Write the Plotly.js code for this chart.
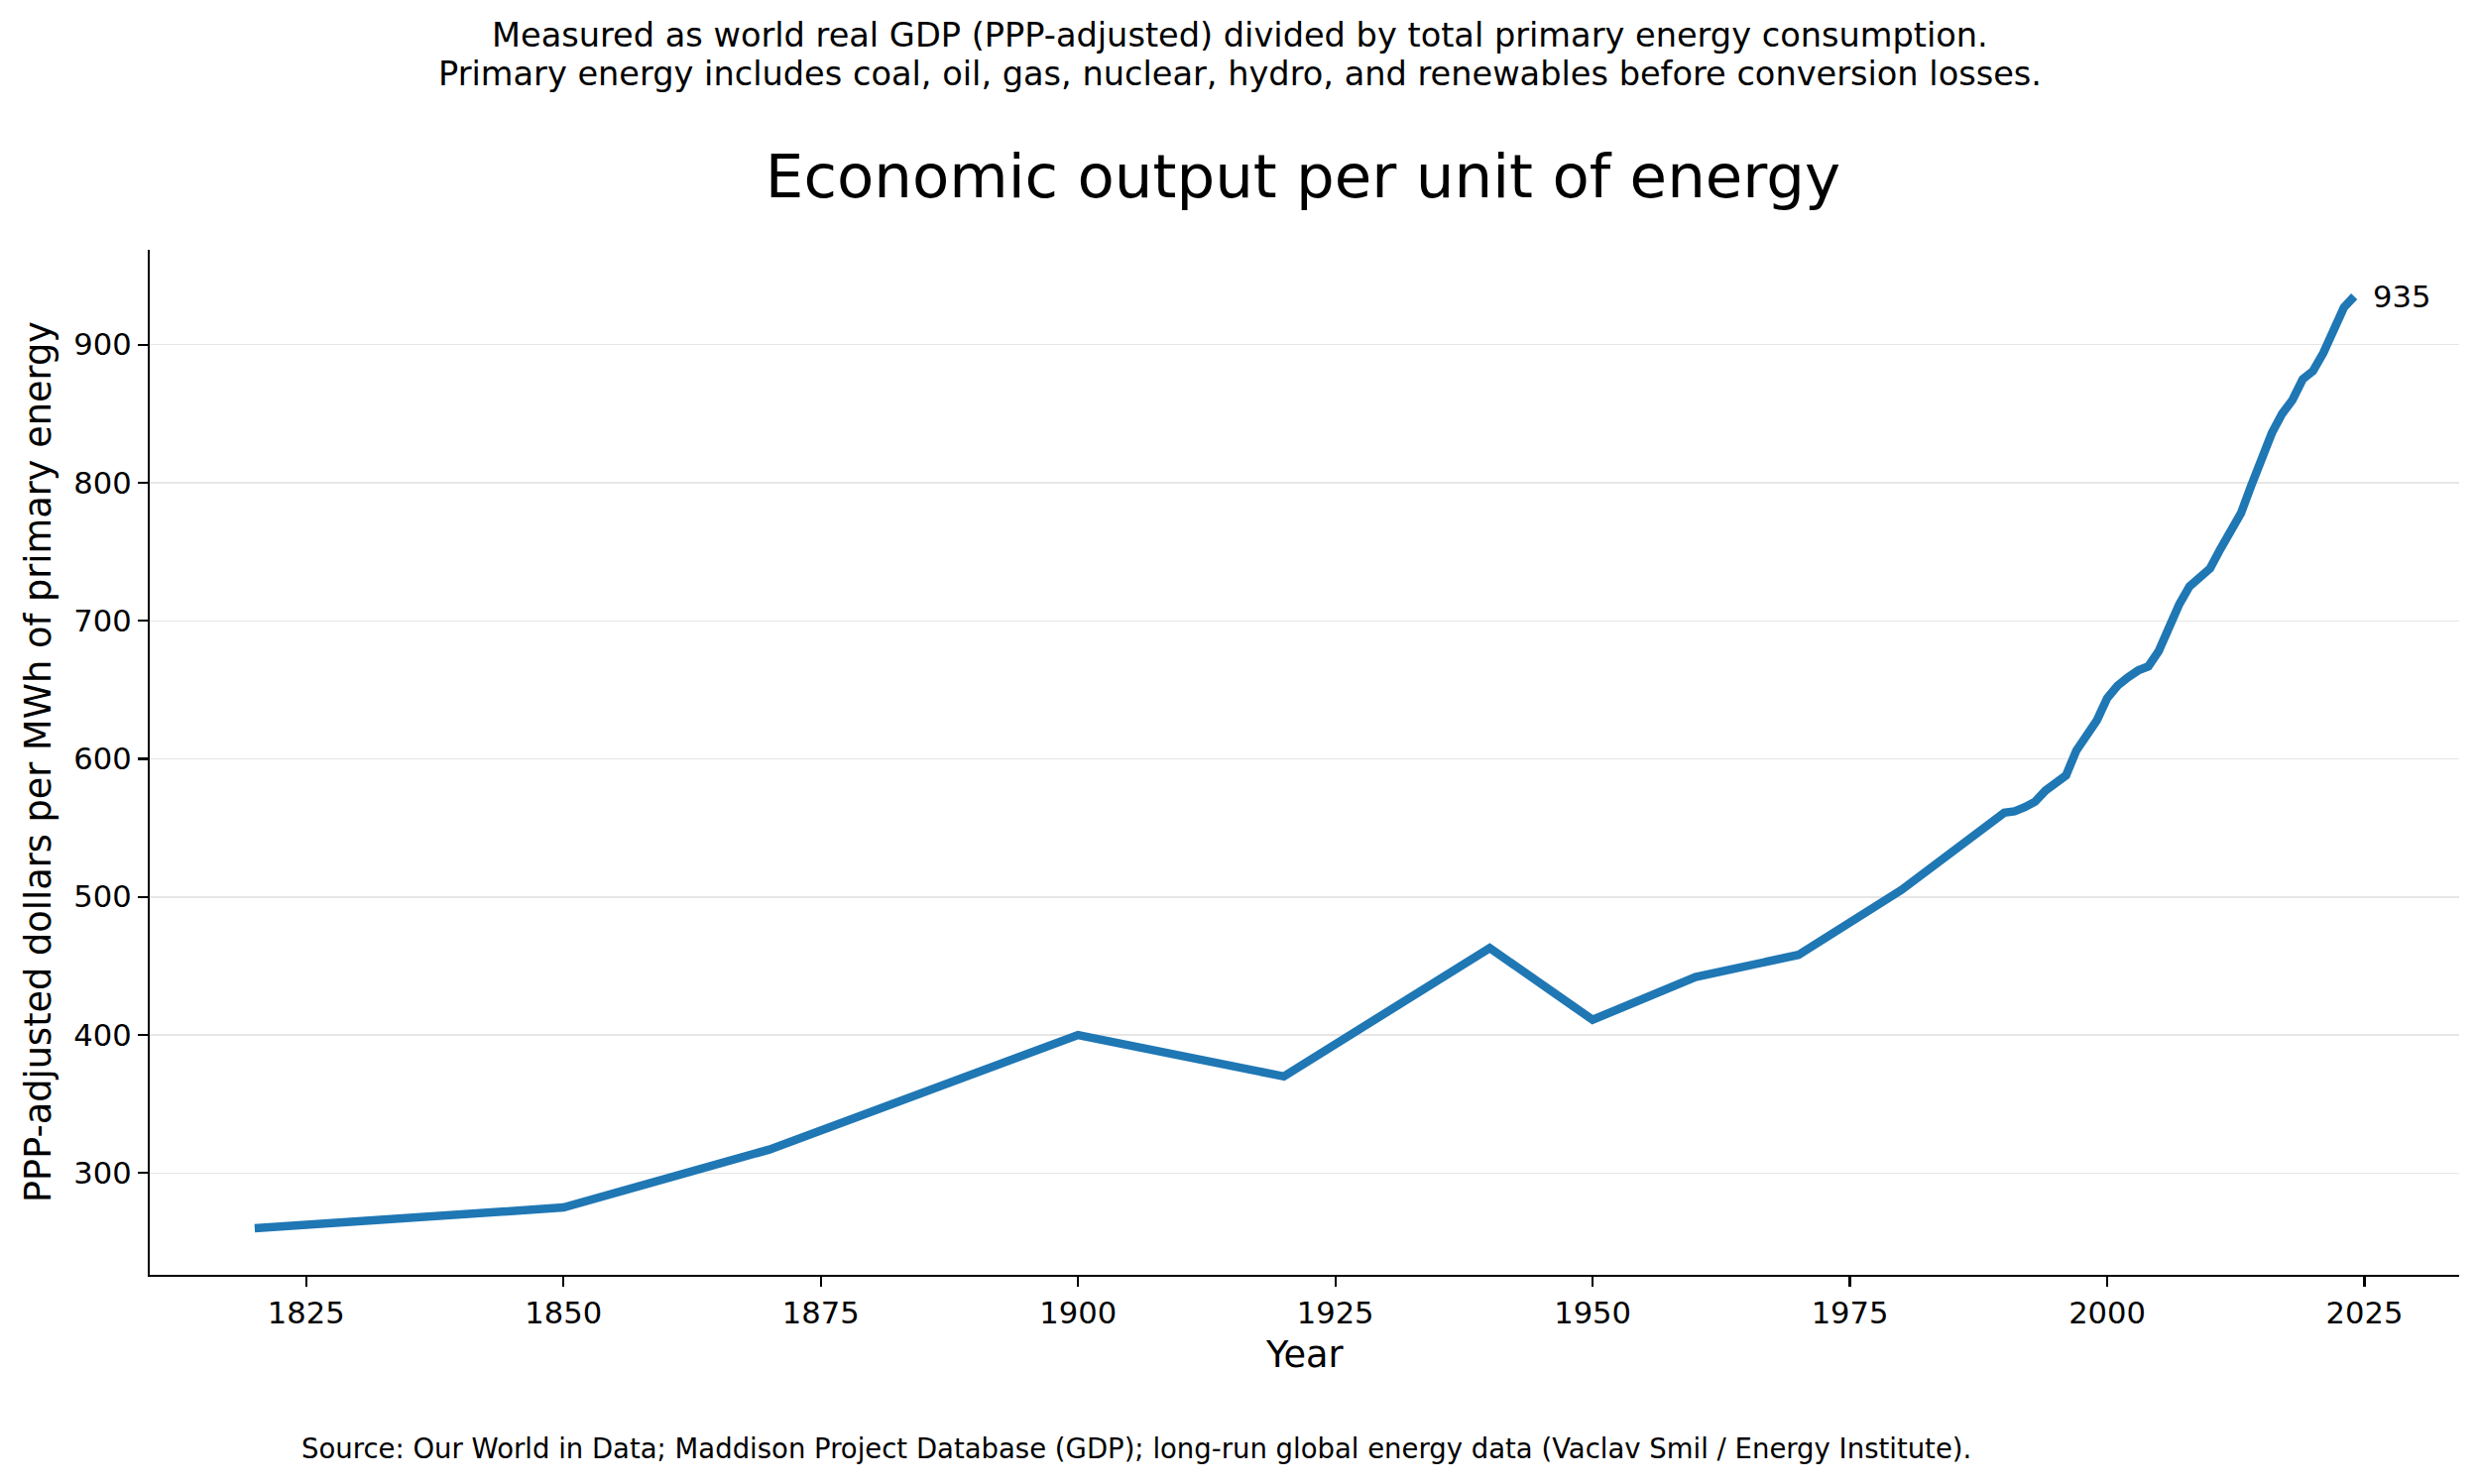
<!DOCTYPE html>
<html>
<head>
<meta charset="utf-8">
<script src="https://cdn.plot.ly/plotly-3.0.1.min.js"></script>
<style>
  html, body { margin: 0; padding: 0; background: #ffffff; }
  #chart { width: 2500px; height: 1497px; }
</style>
</head>
<body>
<div id="chart"></div>
<script>
// Data
const years = [1820, 1850, 1870, 1900, 1920, 1940, 1950, 1960, 1970, 1980,
  1990, 1991, 1992, 1993, 1994, 1995, 1996, 1997, 1998, 1999,
  2000, 2001, 2002, 2003, 2004, 2005, 2006, 2007, 2008, 2009,
  2010, 2011, 2012, 2013, 2014, 2015, 2016, 2017, 2018, 2019,
  2020, 2021, 2022, 2023, 2024];
const gdpPerMWh = [260, 275, 317, 400, 370, 463, 411, 442, 458, 505,
  561, 562, 565, 569, 577, 583, 588, 606, 617, 628,
  644, 653, 659, 664, 667, 678, 695, 712, 725, 732,
  738, 752, 765, 778, 798, 819, 836, 850, 860, 875,
  881, 894, 910, 927, 935];
const xTicks = [1825, 1850, 1875, 1900, 1925, 1950, 1975, 2000, 2025];
const yTicks = [300, 400, 500, 600, 700, 800, 900];

const titleText = "Economic output per unit of energy";
const subtitle1 = "Measured as world real GDP (PPP-adjusted) divided by total primary energy consumption.";
const subtitle2 = "Primary energy includes coal, oil, gas, nuclear, hydro, and renewables before conversion losses.";
const sourceText = "Source: Our World in Data; Maddison Project Database (GDP); long-run global energy data (Vaclav Smil / Energy Institute).";
const xTitle = "Year";
const yTitle = "PPP-adjusted dollars per MWh of primary energy";

const FONT = "DejaVu Sans, Liberation Sans, sans-serif";
const lastX = years[years.length - 1];
const lastY = gdpPerMWh[gdpPerMWh.length - 1];

const xMin = Math.min(...years), xMax = Math.max(...years);
const yMin = Math.min(...gdpPerMWh), yMax = Math.max(...gdpPerMWh);
const xPad = (xMax - xMin) * 0.05, yPad = (yMax - yMin) * 0.05;

const trace = {
  x: years,
  y: gdpPerMWh,
  type: "scatter",
  mode: "lines",
  line: { color: "#1f77b4", width: 8.5 },
  hoverinfo: "x+y"
};

const layout = {
  width: 2500,
  height: 1497,
  paper_bgcolor: "#ffffff",
  plot_bgcolor: "#ffffff",
  margin: { l: 151, r: 20, t: 252, b: 211, pad: 0 },
  showlegend: false,
  font: { family: FONT, color: "#000000", size: 30.6 },
  title: {
    text: titleText,
    font: { family: FONT, size: 61, color: "#000000" },
    x: 0.5256, xanchor: "center",
    y: 1 - 178 / 1497, yanchor: "middle",
    xref: "container", yref: "container"
  },
  xaxis: {
    range: [xMin - xPad, xMax + xPad],
    tickmode: "array",
    tickvals: xTicks,
    ticktext: xTicks.map(String),
    ticks: "outside",
    ticklen: 10,
    tickwidth: 2.2,
    tickcolor: "#000000",
    tickfont: { family: FONT, size: 30.6, color: "#000000" },
    showline: true,
    linecolor: "#000000",
    linewidth: 2.2,
    showgrid: false,
    zeroline: false,
    mirror: false
  },
  yaxis: {
    range: [yMin - yPad, yMax + yPad],
    tickmode: "array",
    tickvals: yTicks,
    ticktext: yTicks.map(String),
    ticks: "outside",
    ticklen: 10,
    tickwidth: 2.2,
    tickcolor: "#000000",
    tickfont: { family: FONT, size: 30.6, color: "#000000" },
    showline: true,
    linecolor: "#000000",
    linewidth: 2.2,
    showgrid: true,
    gridcolor: "#e6e6e6",
    gridwidth: 1.5,
    zeroline: false,
    mirror: false
  },
  annotations: [
    {
      x: lastX, y: lastY, xref: "x", yref: "y",
      text: String(lastY),
      showarrow: false,
      xanchor: "left", yanchor: "middle",
      xshift: 17,
      font: { family: FONT, size: 30.6, color: "#000000" }
    },
    {
      xref: "paper", yref: "paper",
      x: (1250 - 151) / 2329, y: (1286 - 35) / 1034,
      text: subtitle1, showarrow: false,
      xanchor: "center", yanchor: "middle",
      font: { family: FONT, size: 33.6, color: "#000000" }
    },
    {
      xref: "paper", yref: "paper",
      x: (1250 - 151) / 2329, y: (1286 - 74) / 1034,
      text: subtitle2, showarrow: false,
      xanchor: "center", yanchor: "middle",
      font: { family: FONT, size: 33.6, color: "#000000" }
    },
    {
      xref: "paper", yref: "paper",
      x: (302 - 151) / 2329, y: (1286 - 1461) / 1034,
      text: sourceText, showarrow: false,
      xanchor: "left", yanchor: "middle",
      font: { family: FONT, size: 27.5, color: "#000000" }
    },
    {
      xref: "paper", yref: "paper",
      x: 0.5, y: (1286 - 1366) / 1034,
      text: xTitle, showarrow: false,
      xanchor: "center", yanchor: "middle",
      font: { family: FONT, size: 36.7, color: "#000000" }
    },
    {
      xref: "paper", yref: "paper",
      x: (38 - 151) / 2329, y: 0.5,
      text: yTitle, showarrow: false,
      textangle: -90,
      xanchor: "center", yanchor: "middle",
      font: { family: FONT, size: 36.7, color: "#000000" }
    }
  ]
};

Plotly.newPlot("chart", [trace], layout, { displayModeBar: false, staticPlot: true });
</script>
</body>
</html>
